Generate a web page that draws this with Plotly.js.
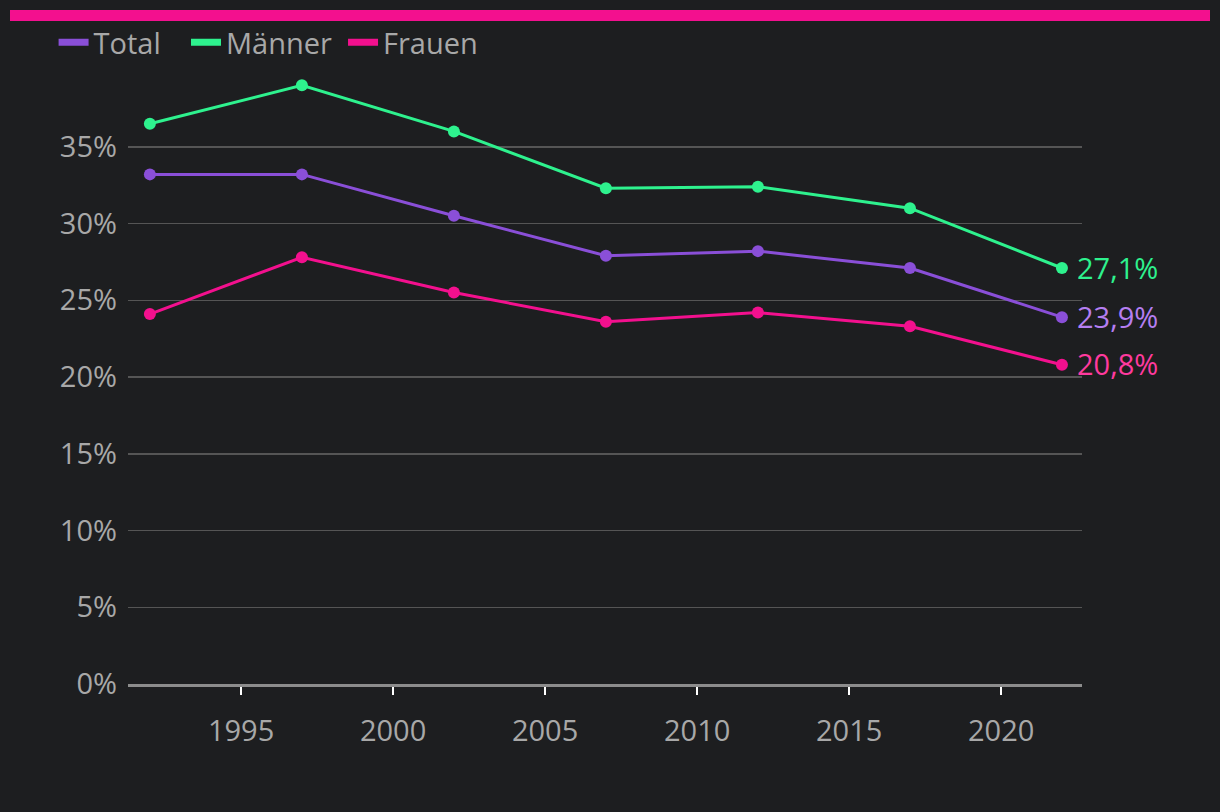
<!DOCTYPE html>
<html>
<head>
<meta charset="utf-8">
<script src="https://cdn.plot.ly/plotly-3.0.1.min.js"></script>
<style>
html,body{margin:0;padding:0;background:#1d1e20;}
#chart{width:1220px;height:812px;}
</style>
</head>
<body>
<div id="chart"></div>
<script>
const years = [1992, 1997, 2002, 2007, 2012, 2017, 2022];
const total = [33.2, 33.2, 30.5, 27.9, 28.2, 27.1, 23.9];
const maenner = [36.5, 39.0, 36.0, 32.3, 32.4, 31.0, 27.1];
const frauen = [24.1, 27.8, 25.5, 23.6, 24.2, 23.3, 20.8];
const seriesNames = ['Total', 'Männer', 'Frauen'];
const yTicks = [0, 5, 10, 15, 20, 25, 30, 35];
const xTicks = [1995, 2000, 2005, 2010, 2015, 2020];

const lineColors = ['#8a4fd8', '#2ef28e', '#f3108e'];
const labelColors = ['#b57ef2', '#2ef28e', '#ff3a9e'];
const seriesData = [total, maenner, frauen];
const font = '"Open Sans", Lato, sans-serif';
const fsize = 29;
const legendIds = ['legend', 'legend2', 'legend3'];
const legendX = [-0.078, 0.0608, 0.2254];

const traces = seriesData.map((vals, i) => ({
  x: years, y: vals, name: seriesNames[i], type: 'scatter', mode: 'lines+markers',
  line: {color: lineColors[i], width: 3},
  marker: {color: lineColors[i], size: 12},
  hoverinfo: 'skip', showlegend: false
}));
const legendTraces = seriesNames.map((n, i) => ({
  x: [null], y: [null], name: n, type: 'scatter', mode: 'lines',
  line: {color: lineColors[i], width: 7}, hoverinfo: 'skip', legend: legendIds[i]
}));

const fmt = v => v.toFixed(1).replace('.', ',') + '%';
const annotations = seriesData.map((vals, i) => ({
  x: years[years.length - 1], y: vals[vals.length - 1], xref: 'x', yref: 'y',
  text: fmt(vals[vals.length - 1]), showarrow: false, xanchor: 'left', yanchor: 'middle',
  xshift: 13, yshift: 1, font: {family: font, size: fsize, color: labelColors[i]}
}));

const layout = {
  width: 1220, height: 812,
  paper_bgcolor: '#1d1e20', plot_bgcolor: '#1d1e20',
  margin: {l: 128, r: 138, t: 70, b: 128},
  font: {family: font, size: fsize, color: '#a8a8a8'},
  showlegend: true,
  xaxis: {
    range: [1991.28, 2022.66], tickvals: xTicks, showgrid: false,
    ticks: 'outside', ticklen: 8, tickwidth: 2, tickcolor: '#ffffff',
    ticklabelstandoff: 11, showline: true, linecolor: '#8c8c8c', linewidth: 3,
    zeroline: false, tickfont: {family: font, size: fsize, color: '#a8a8a8'}
  },
  yaxis: {
    range: [0, 40], tickvals: yTicks, ticktext: yTicks.map(v => v + '%'),
    showgrid: true, gridcolor: '#555555', gridwidth: 1.5, zeroline: false,
    showline: false, ticks: '', ticklabelstandoff: 10,
    tickfont: {family: font, size: fsize, color: '#a8a8a8'}
  },
  shapes: [{
    type: 'rect', xref: 'paper', yref: 'paper',
    x0: (10 - 128) / 954, x1: (1210 - 128) / 954,
    y0: (684 - 21) / 614, y1: (684 - 10) / 614,
    fillcolor: '#f3108e', line: {width: 0}
  }],
  annotations: annotations
};
legendIds.forEach((id, i) => {
  layout[id] = {orientation: 'h', x: legendX[i], xanchor: 'left', y: 1.045, yanchor: 'middle',
    font: {family: font, size: fsize, color: '#a8a8a8'}, bgcolor: 'rgba(0,0,0,0)',
    itemwidth: 30};
});

Plotly.newPlot('chart', legendTraces.concat(traces), layout, {displayModeBar: false, staticPlot: true});
</script>
</body>
</html>
